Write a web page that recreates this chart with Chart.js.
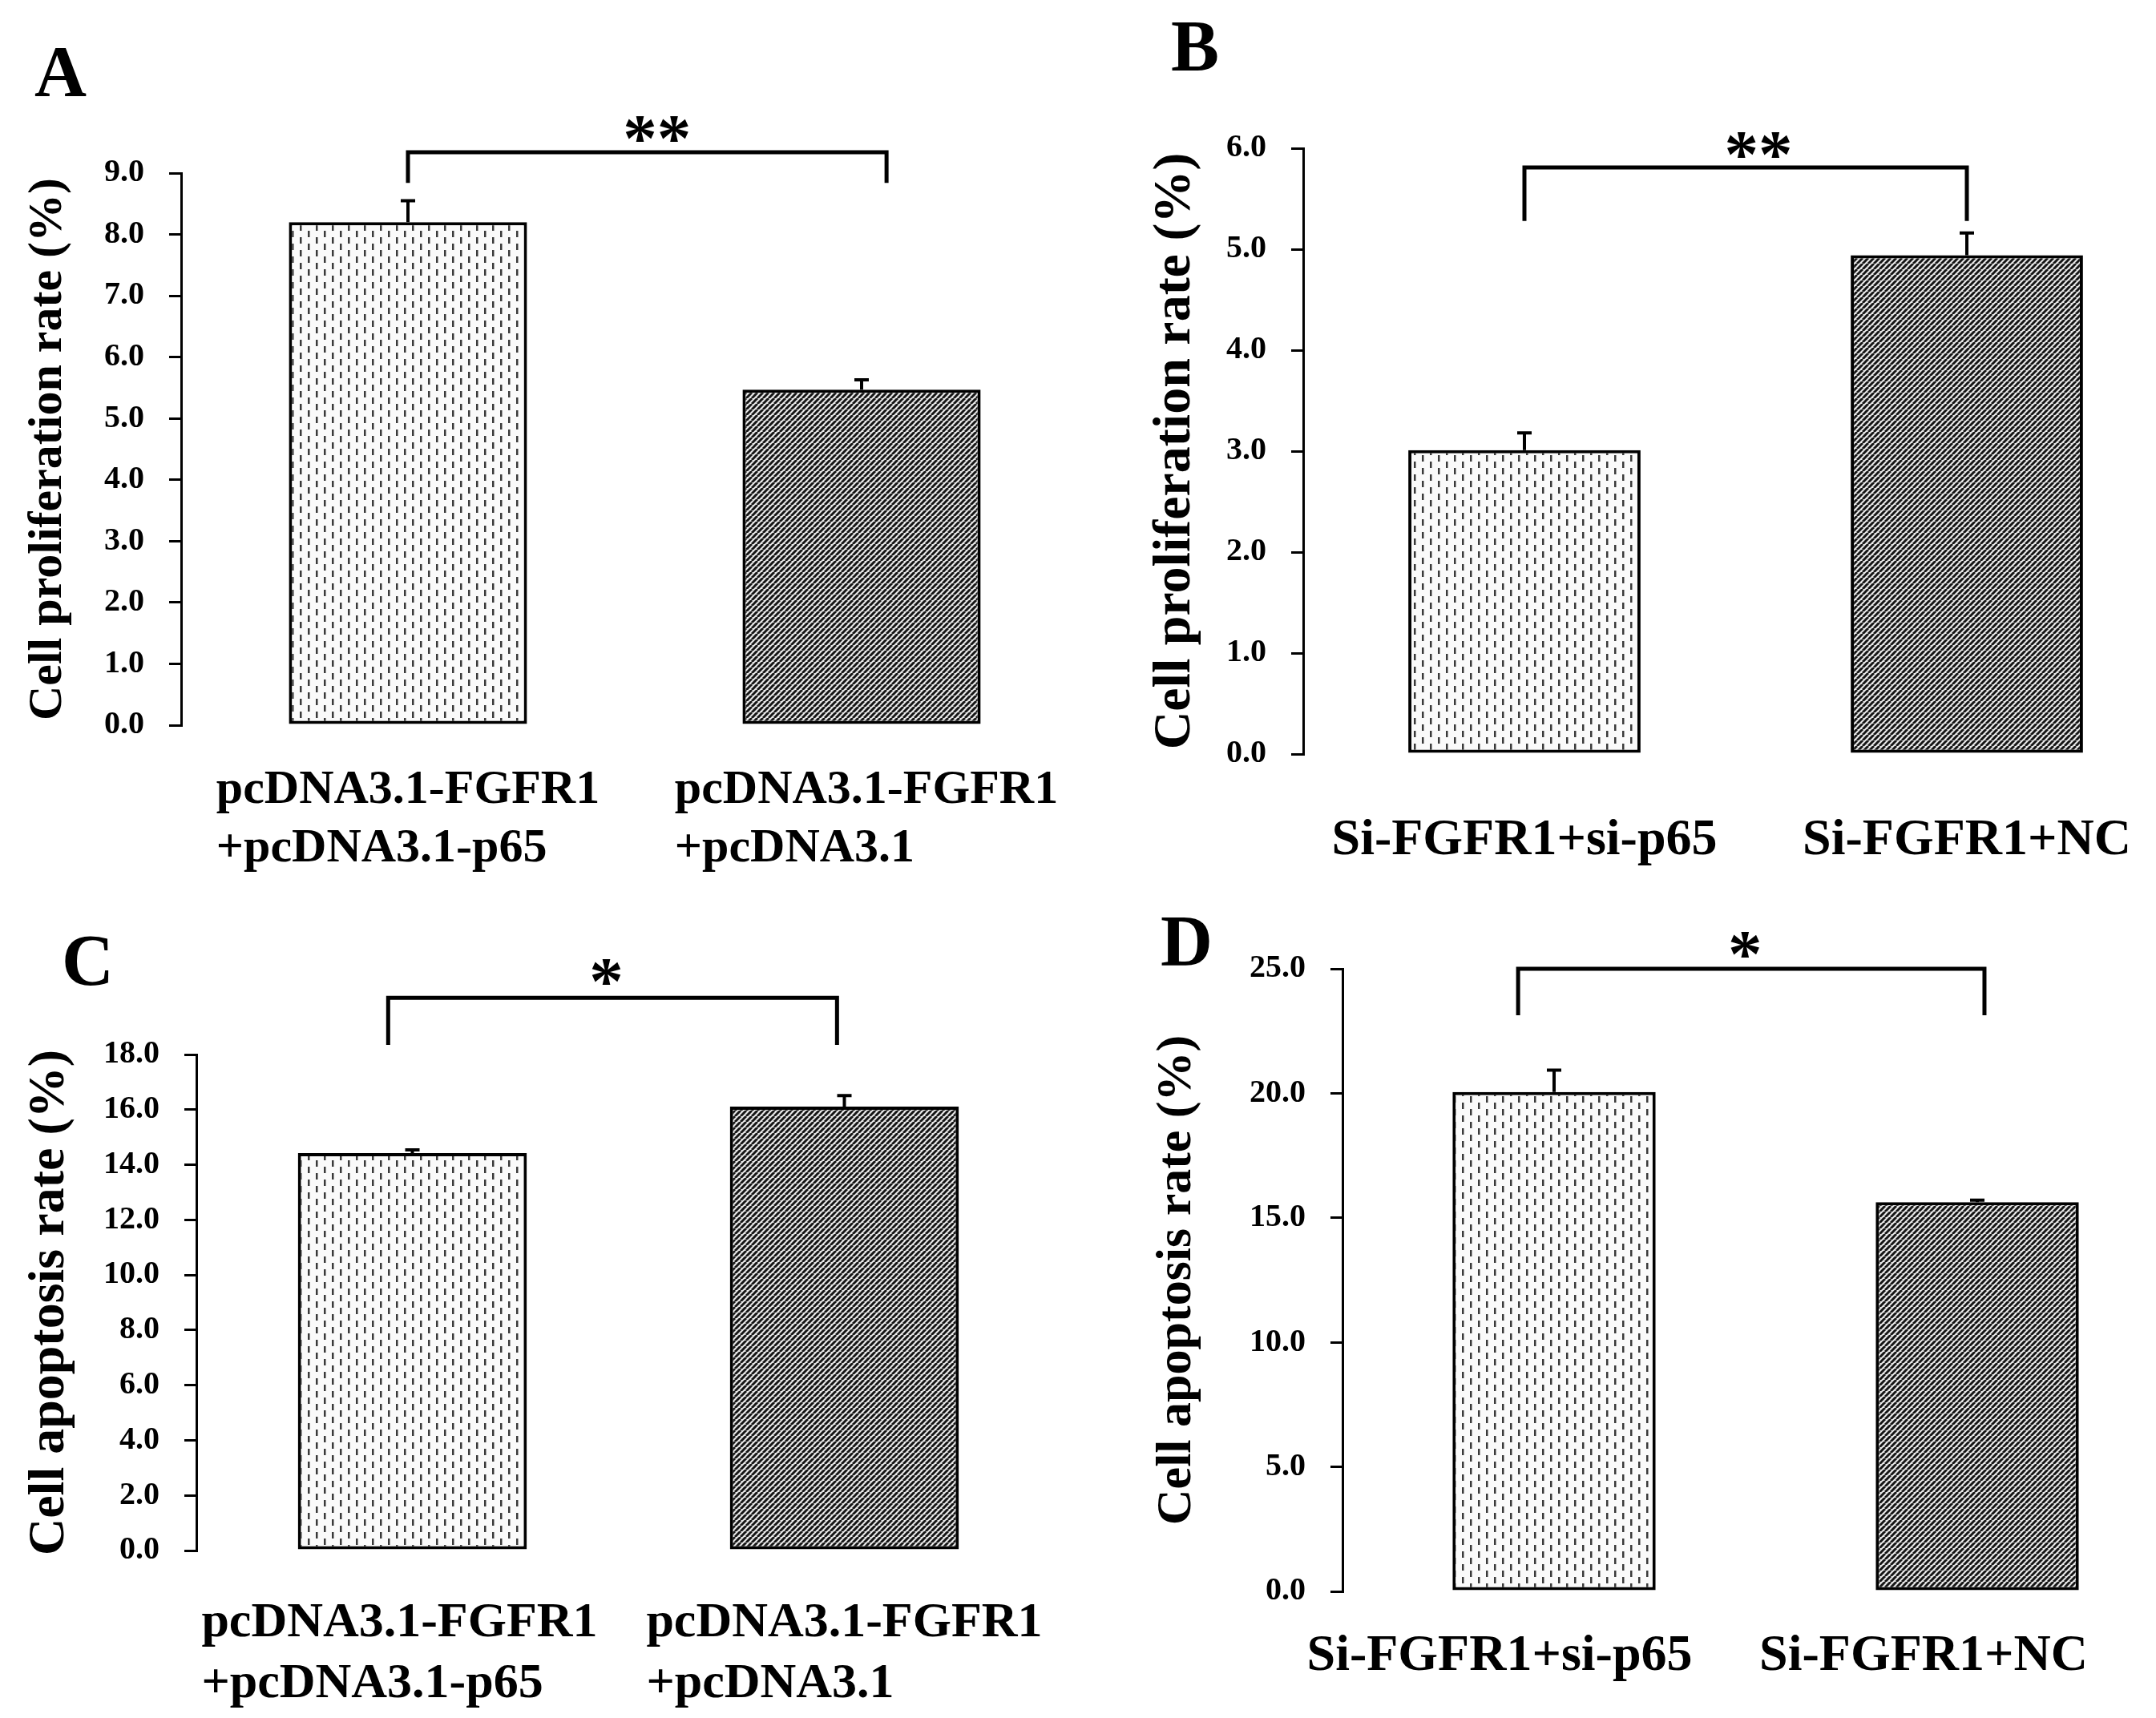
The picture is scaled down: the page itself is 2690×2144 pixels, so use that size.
<!DOCTYPE html>
<html>
<head>
<meta charset="utf-8">
<title>Cell proliferation and apoptosis</title>
<script src="https://cdn.jsdelivr.net/npm/chart.js@4.4.1/dist/chart.umd.min.js"></script>
<style>
    html, body { margin: 0; padding: 0; background: #fff; overflow: hidden; width: 2690px; height: 2144px; }
    .panel { position: absolute; left: 0; top: 0; width: 2800px; height: 2144px; }
</style>
</head>
<body>
<div class="panel"><canvas id="chartA"></canvas></div>
<div class="panel"><canvas id="chartB"></canvas></div>
<div class="panel"><canvas id="chartC"></canvas></div>
<div class="panel"><canvas id="chartD"></canvas></div>
<script>
// DATA

var pcdnaLabels = [['pcDNA3.1-FGFR1', '+pcDNA3.1-p65'], ['pcDNA3.1-FGFR1', '+pcDNA3.1']];
var siLabels = [['Si-FGFR1+si-p65'], ['Si-FGFR1+NC']];

var prolifA = [8.20, 5.47];
var prolifAErr = [0.35, 0.16];
var prolifB = [3.01, 4.94];
var prolifBErr = [0.17, 0.22];
var apopC = [14.42, 16.11];
var apopCErr = [0.12, 0.40];
var apopD = [20.05, 15.63];
var apopDErr = [0.88, 0.08];

var sigA = '**';
var sigB = '**';
var sigC = '*';
var sigD = '*';

var SERIF = "'Liberation Serif', 'Times New Roman', serif";

Chart.defaults.color = '#000';
Chart.defaults.font.family = SERIF;
Chart.defaults.font.weight = 'bold';

// PATTERNS

function lightPattern() {
    var c = document.createElement('canvas');
    c.width = 20; c.height = 16;
    var g = c.getContext('2d');
    g.fillStyle = '#fafafa';
    g.fillRect(0, 0, 20, 16);
    g.fillStyle = '#3a3a3a';
    g.fillRect(4, 0, 2.5, 8);
    g.fillRect(14, 8, 2.5, 8);
    return g.createPattern(c, 'repeat');
}

function darkPattern() {
    var s = 7;
    var c = document.createElement('canvas');
    c.width = s; c.height = s;
    var g = c.getContext('2d');
    g.fillStyle = '#e8e8e8';
    g.fillRect(0, 0, s, s);
    g.strokeStyle = '#151515';
    g.lineWidth = 3;
    for (var k = -1; k <= 1; k++) {
        g.beginPath();
        g.moveTo(k * s, s);
        g.lineTo(k * s + s, 0);
        g.stroke();
    }
    return g.createPattern(c, 'repeat');
}

// error bars, bracket, stars, category labels, panel letter
var annotate = {
    id: 'annotate',
    afterDatasetsDraw: function (chart) {
        var o = chart.options.plugins.annotate;
        var ctx = chart.ctx;
        var xs = chart.scales.x;
        var ys = chart.scales.y;
        var values = chart.data.datasets[0].data;
        var meta = chart.getDatasetMeta(0);

        ctx.save();
        ctx.strokeStyle = '#000';
        ctx.fillStyle = '#000';
        ctx.lineCap = 'butt';

        // error bars (upper only)
        ctx.lineWidth = 4;
        meta.data.forEach(function (bar, i) {
            var top = ys.getPixelForValue(values[i] + o.errors[i]);
            ctx.beginPath();
            ctx.moveTo(bar.x, bar.y);
            ctx.lineTo(bar.x, top);
            ctx.moveTo(bar.x - 9, top);
            ctx.lineTo(bar.x + 9, top);
            ctx.stroke();
        });

        // significance bracket
        var b = o.bracket;
        var x1 = xs.getPixelForValue(b.from);
        var x2 = xs.getPixelForValue(b.to);
        var yTop = ys.getPixelForValue(b.top);
        var yLeg = ys.getPixelForValue(b.leg);
        ctx.lineWidth = 5;
        ctx.lineJoin = 'miter';
        ctx.beginPath();
        ctx.moveTo(x1, yLeg);
        ctx.lineTo(x1, yTop);
        ctx.lineTo(x2, yTop);
        ctx.lineTo(x2, yLeg);
        ctx.stroke();

        ctx.font = 'bold 85px ' + SERIF;
        ctx.textAlign = 'center';
        ctx.textBaseline = 'alphabetic';
        ctx.fillText(b.stars, xs.getPixelForValue(b.starAt), ys.getPixelForValue(b.starY) + 40);

        // category labels: left aligned block centred under each bar
        var L = o.labels;
        ctx.font = 'bold ' + L.size + 'px ' + SERIF;
        ctx.textAlign = 'left';
        chart.data.labels.forEach(function (lines, i) {
            var w = 0;
            lines.forEach(function (t) { w = Math.max(w, ctx.measureText(t).width); });
            var left = xs.getPixelForValue(i) + L.offsets[i] - w / 2;
            lines.forEach(function (t, k) {
                ctx.fillText(t, left, L.baseline + k * L.gap);
            });
        });

        // panel letter
        ctx.font = 'bold 90px ' + SERIF;
        ctx.fillText(o.letter.text, o.letter.x, o.letter.y);

        ctx.restore();
    }
};

function makePanel(id, labels, values, errors, p) {
    return new Chart(document.getElementById(id), {
        type: 'bar',
        data: {
            labels: labels,
            datasets: [{
                data: values,
                backgroundColor: [lightPattern(), darkPattern()],
                borderColor: '#000',
                borderWidth: 4,
                borderSkipped: false,
                barPercentage: p.barPct,
                categoryPercentage: 1.0
            }]
        },
        options: {
            responsive: true,
            maintainAspectRatio: false,
            animation: false,
            events: [],
            layout: { padding: p.padding },
            plugins: {
                legend: { display: false },
                tooltip: { enabled: false },
                annotate: {
                    errors: errors,
                    bracket: p.bracket,
                    labels: p.labels,
                    letter: p.letter
                }
            },
            scales: {
                x: { display: false, offset: true },
                y: {
                    min: 0,
                    max: p.yMax,
                    afterFit: function (scale) { scale.width = p.yWidth; },
                    ticks: {
                        stepSize: p.yStep,
                        padding: 31,
                        font: { size: 40, weight: 'bold', family: SERIF },
                        callback: function (v) { return v.toFixed(1); }
                    },
                    grid: { drawOnChartArea: false, drawTicks: true, tickLength: 15, color: '#000', lineWidth: 3 },
                    border: { display: true, color: '#000', width: 3 },
                    title: {
                        display: true,
                        text: p.title,
                        padding: 0,
                        font: { size: p.titleSize, weight: 'bold', family: SERIF }
                    }
                }
            }
        },
        plugins: [annotate]
    });
}

// PANELS

makePanel('chartA', pcdnaLabels, prolifA, prolifAErr, {
    padding: { left: 24, top: 216, right: 1442, bottom: 1239 },
    yWidth: 202, yMax: 9, yStep: 1, barPct: 0.525,
    title: 'Cell proliferation rate (%)', titleSize: 60,
    bracket: { from: 0, to: 1.055, top: 9.34, leg: 8.84, stars: sigA, starAt: 0.549, starY: 9.72 },
    labels: { size: 60, baseline: 1002, gap: 73, offsets: [0, 6] },
    letter: { text: 'A', x: 43, y: 120 }
});

makePanel('chartB', siLabels, prolifB, prolifBErr, {
    padding: { left: 1427, top: 185, right: 70, bottom: 1203 },
    yWidth: 199, yMax: 6, yStep: 1, barPct: 0.525,
    title: 'Cell proliferation rate (%)', titleSize: 66,
    bracket: { from: 0, to: 1, top: 5.81, leg: 5.28, stars: sigB, starAt: 0.529, starY: 6.03 },
    labels: { size: 64, baseline: 1066, gap: 0, offsets: [0, 0] },
    letter: { text: 'B', x: 1461, y: 88 }
});

makePanel('chartC', pcdnaLabels, apopC, apopCErr, {
    padding: { left: 24, top: 1316, right: 1477, bottom: 209 },
    yWidth: 221, yMax: 18, yStep: 2, barPct: 0.53,
    title: 'Cell apoptosis rate (%)', titleSize: 64,
    bracket: { from: -0.056, to: 0.983, top: 20.06, leg: 18.35, stars: sigC, starAt: 0.449, starY: 21.0 },
    labels: { size: 62, baseline: 2042, gap: 76, offsets: [-16, 0] },
    letter: { text: 'C', x: 77, y: 1229 }
});

makePanel('chartD', siLabels, apopD, apopDErr, {
    padding: { left: 1432, top: 1209, right: 69, bottom: 158 },
    yWidth: 243, yMax: 25, yStep: 5, barPct: 0.48,
    title: 'Cell apoptosis rate (%)', titleSize: 62,
    bracket: { from: -0.085, to: 1.017, top: 25.0, leg: 23.13, stars: sigD, starAt: 0.451, starY: 25.97 },
    labels: { size: 64, baseline: 2084, gap: 0, offsets: [-68, -67] },
    letter: { text: 'D', x: 1448, y: 1205 }
});
</script>
</body>
</html>
